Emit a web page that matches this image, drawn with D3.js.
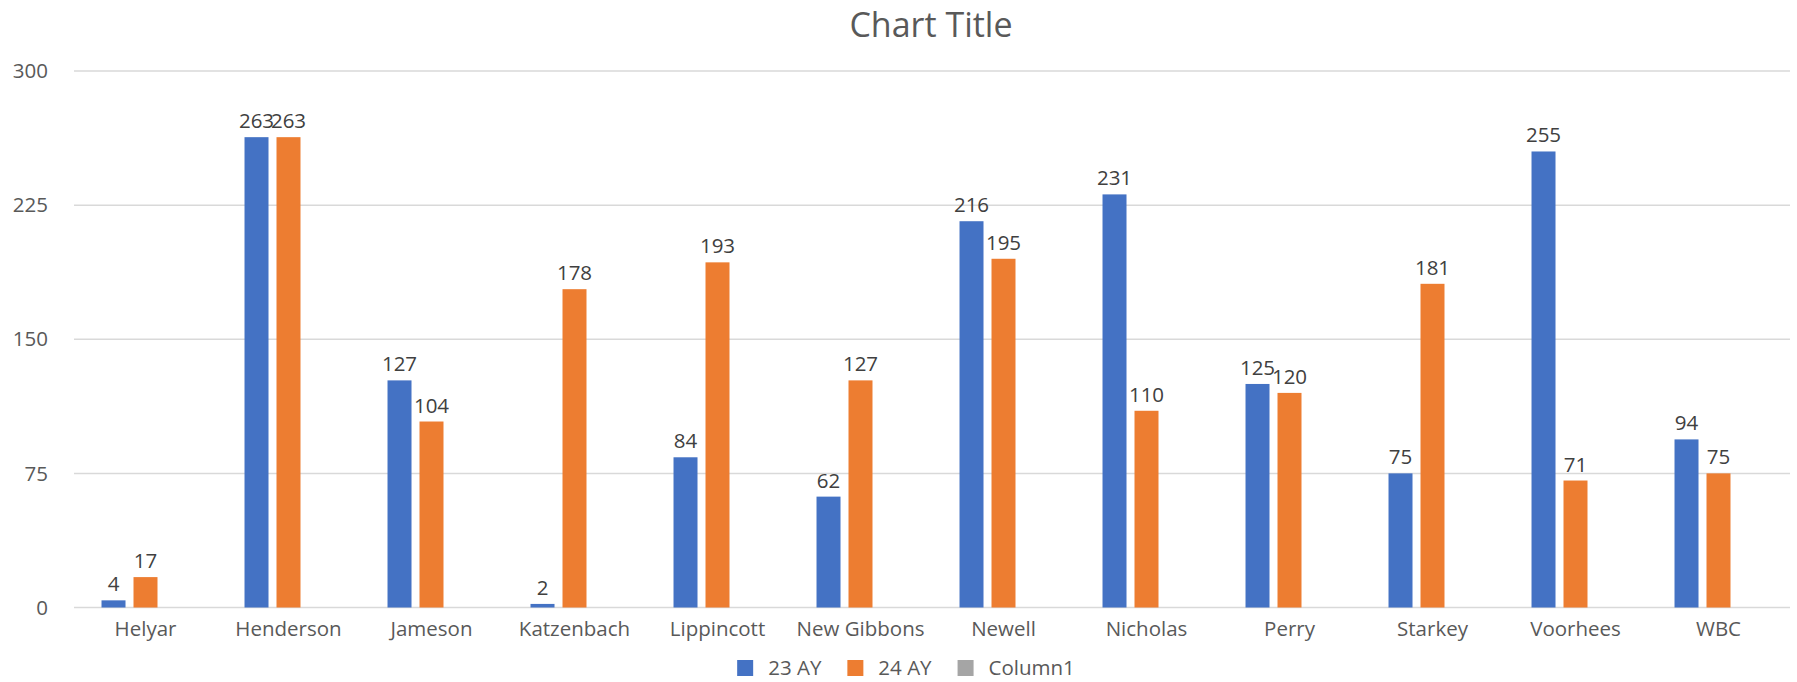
<html>
<head>
    <meta charset="utf-8">
    <style>
        body { margin: 0; background: #fff; }
        text { font-family: "Open Sans", sans-serif; }
        .grid line { stroke: #d9d9d9; stroke-width: 1.5; }
        .tick-label { fill: #595959; font-size: 20.5px; }
        .value-label { fill: #404040; font-size: 20.5px; }
        .legend text { fill: #595959; font-size: 20.5px; }
    </style>
</head>
<body>
    <script src="https://cdn.jsdelivr.net/npm/d3@7"></script>
    <script>
        var categories = ["Helyar", "Henderson", "Jameson", "Katzenbach", "Lippincott", "New Gibbons",
            "Newell", "Nicholas", "Perry", "Starkey", "Voorhees", "WBC"];
        var seriesNames = ["23 AY", "24 AY", "Column1"];
        var ay23 = [4, 263, 127, 2, 84, 62, 216, 231, 125, 75, 255, 94];
        var ay24 = [17, 263, 104, 178, 193, 127, 195, 110, 120, 181, 71, 75];
        var column1 = [];   // empty series, only shows in the legend
        var yTicks = [0, 75, 150, 225, 300];
        var colors = ["#4472C4", "#ED7D31", "#A5A5A5"];

        var width = 1797, height = 682;
        var plotLeft = 74, plotRight = 1790, plotTop = 71, plotBottom = 607.5;

        var svg = d3.select("body").append("svg")
            .attr("width", width)
            .attr("height", height);

        var x0 = d3.scaleBand().domain(categories).range([plotLeft, plotRight]);
        var x1 = d3.scaleBand().domain(seriesNames)
            .range([0, x0.bandwidth()])
            .paddingInner(0.25)
            .paddingOuter(0.86);
        var y = d3.scaleLinear().domain([0, 300]).range([plotBottom, plotTop]);

        // gridlines
        svg.append("g").attr("class", "grid")
            .selectAll("line")
            .data(yTicks)
            .enter().append("line")
            .attr("x1", plotLeft).attr("x2", plotRight)
            .attr("y1", function(d) { return y(d); })
            .attr("y2", function(d) { return y(d); });

        svg.append("g").selectAll("text")
            .data(yTicks)
            .enter().append("text")
            .attr("class", "tick-label")
            .attr("x", 48)
            .attr("y", function(d) { return y(d); })
            .attr("dy", "0.35em")
            .attr("text-anchor", "end")
            .text(function(d) { return d; });

        var series = [ay23, ay24, column1];

        series.forEach(function(vals, si) {
            var g = svg.append("g");
            var data = vals.map(function(v, i) { return { cat: categories[i], v: v }; });
            g.selectAll("rect")
                .data(data)
                .enter().append("rect")
                .attr("x", function(d) { return x0(d.cat) + x1(seriesNames[si]); })
                .attr("width", x1.bandwidth())
                .attr("y", function(d) { return y(d.v); })
                .attr("height", function(d) { return y(0) - y(d.v); })
                .attr("fill", colors[si]);
            g.selectAll("text")
                .data(data)
                .enter().append("text")
                .attr("class", "value-label")
                .attr("x", function(d) { return x0(d.cat) + x1(seriesNames[si]) + x1.bandwidth() / 2; })
                .attr("y", function(d) { return y(d.v) - 9; })
                .attr("text-anchor", "middle")
                .text(function(d) { return d.v; });
        });

        // category labels
        svg.append("g").selectAll("text")
            .data(categories)
            .enter().append("text")
            .attr("class", "tick-label")
            .attr("x", function(d) { return x0(d) + x0.bandwidth() / 2; })
            .attr("y", 636)
            .attr("text-anchor", "middle")
            .text(function(d) { return d; });

        // title
        svg.append("text")
            .attr("x", 931)
            .attr("y", 37)
            .attr("text-anchor", "middle")
            .style("font-size", "34px")
            .style("fill", "#595959")
            .text("Chart Title");

        // legend
        var legend = svg.append("g").attr("class", "legend");
        var items = legend.selectAll("g")
            .data(seriesNames)
            .enter().append("g");
        items.append("rect")
            .attr("width", 16).attr("height", 16)
            .attr("y", 660)
            .attr("fill", function(d, i) { return colors[i]; });
        items.append("text")
            .attr("x", 31)
            .attr("y", 668)
            .attr("dy", "0.35em")
            .text(function(d) { return d; });

        var pos = 0;
        items.each(function() {
            var w = d3.select(this).select("text").node().getComputedTextLength();
            d3.select(this).attr("data-x", pos);
            pos += 31 + w + 26;
        });
        var total = pos - 26;
        var start = 906 - total / 2;
        items.attr("transform", function() {
            return "translate(" + (start + (+d3.select(this).attr("data-x"))) + ",0)";
        });
    </script>
</body>
</html>
